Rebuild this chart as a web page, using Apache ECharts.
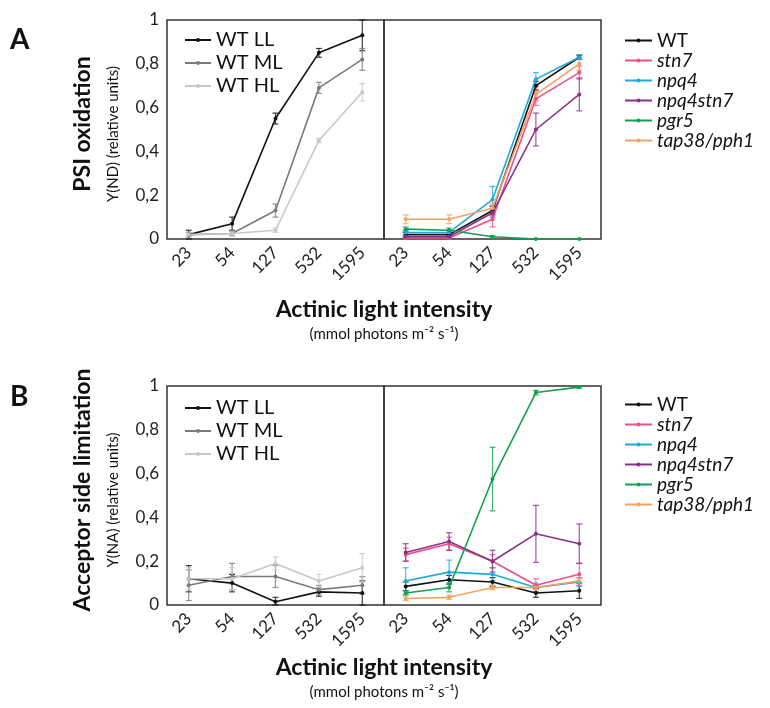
<!DOCTYPE html>
<html><head><meta charset="utf-8">
<script src="https://cdn.jsdelivr.net/npm/echarts@6/dist/echarts.min.js"></script>
<style>html,body{margin:0;padding:0;background:#fff}#c{width:770px;height:708px}</style>
</head><body><div id="c"></div>
<script>
const categories = ['23','54','127','532','1595'];
const yTicks = [0,0.2,0.4,0.6,0.8,1];

// Panel A (PSI oxidation, Y(ND)) – left: WT light acclimation
const aLL = [0.02,0.07,0.55,0.85,0.93];   const aLLerr = [0.02,0.03,0.025,0.02,0.07];
const aML = [0.02,0.025,0.13,0.69,0.82];  const aMLerr = [0.01,0.01,0.03,0.025,0.05];
const aHL = [0.02,0.025,0.04,0.45,0.67];  const aHLerr = [0.01,0.01,0.01,0.01,0.04];
// Panel A – right: mutants
const aWT = [0.02,0.02,0.13,0.70,0.83];        const aWTerr = [0.01,0.01,0.02,0.02,0.01];
const aStn7 = [0.005,0.005,0.09,0.64,0.76];    const aStn7err = [0.005,0.005,0.035,0.03,0.03];
const aNpq4 = [0.03,0.03,0.18,0.73,0.83];      const aNpq4err = [0.01,0.01,0.06,0.03,0.01];
const aNpq4stn7 = [0.01,0.01,0.12,0.50,0.66];  const aNpq4stn7err = [0.005,0.005,0.02,0.075,0.075];
const aPgr5 = [0.045,0.04,0.01,0.0,0.0];       const aPgr5err = [0.01,0.01,0.005,0,0];
const aTap38 = [0.09,0.09,0.14,0.66,0.80];     const aTap38err = [0.02,0.02,0.02,0.03,0.03];

// Panel B (Acceptor side limitation, Y(NA)) – left
const bLL = [0.12,0.10,0.015,0.06,0.055]; const bLLerr = [0.06,0.04,0.02,0.02,0.055];
const bML = [0.09,0.13,0.13,0.07,0.09];   const bMLerr = [0.07,0.06,0.05,0.02,0.04];
const bHL = [0.12,0.12,0.19,0.11,0.17];   const bHLerr = [0.05,0.05,0.03,0.03,0.065];
// Panel B – right
const bWT = [0.085,0.115,0.105,0.055,0.065];   const bWTerr = [0.02,0.02,0.02,0.02,0.035];
const bStn7 = [0.23,0.28,0.20,0.09,0.14];      const bStn7err = [0.03,0.03,0.03,0.03,0.05];
const bNpq4 = [0.11,0.15,0.14,0.08,0.105];     const bNpq4err = [0.06,0.055,0.03,0.02,0.02];
const bNpq4stn7 = [0.24,0.29,0.20,0.325,0.28]; const bNpq4stn7err = [0.04,0.04,0.05,0.13,0.09];
const bPgr5 = [0.055,0.08,0.575,0.97,0.995];   const bPgr5err = [0.01,0.02,0.145,0.01,0.005];
const bTap38 = [0.03,0.035,0.08,0.08,0.11];    const bTap38err = [0.01,0.01,0.01,0.01,0.01];

const wtNames = ['WT LL','WT ML','WT HL'];
const mutNames = ['WT','stn7','npq4','npq4stn7','pgr5','tap38/pph1'];

const FONT = 'Lato';
const wtColors = {'WT LL':'#111111','WT ML':'#7a7a7a','WT HL':'#c8c8c8'};
const mutColors = {'WT':'#111111','stn7':'#ec4f86','npq4':'#1ea9e1','npq4stn7':'#8b2f8c','pgr5':'#12a04e','tap38/pph1':'#f4a261'};

const chart = echarts.init(document.getElementById('c'), null, {renderer:'canvas'});

const grids = [
  {left:167, top:20, width:217, height:219},
  {left:384, top:20, width:217, height:219},
  {left:167, top:386, width:217, height:219},
  {left:384, top:386, width:217, height:219}
];

const xAxes = grids.map((g,i)=>({
  type:'category', gridIndex:i, data:categories, boundaryGap:true,
  axisLine:{show:false}, axisTick:{show:false},
  axisLabel:{rotate:45, fontSize:17, color:'#222', fontFamily:FONT, margin:11}
}));
const yAxes = grids.map((g,i)=>({
  type:'value', gridIndex:i, min:0, max:1, interval:0.2,
  axisLine:{show:false}, axisTick:{show:false}, splitLine:{show:false},
  axisLabel:{show: i%2===0, fontSize:17, color:'#222', fontFamily:FONT, margin:8,
    formatter: v => v===0 ? '0' : v===1 ? '1' : v.toFixed(1).replace('.',',')}
}));

function lineSeries(name, data, color, gi){
  return {type:'line', name, data, xAxisIndex:gi, yAxisIndex:gi,
    symbol:'circle', symbolSize:4, showSymbol:true,
    lineStyle:{color, width:1.6}, itemStyle:{color}, z:3, animation:false};
}
function errSeries(name, vals, errs, color, gi){
  const d = vals.map((v,i)=>[i, v, errs[i]]);
  return {type:'custom', name:'err_'+name+'_'+gi, xAxisIndex:gi, yAxisIndex:gi, data:d, z:2, animation:false,
    silent:true,
    renderItem:(params, api)=>{
      const x = api.value(0), v = api.value(1), e = api.value(2);
      if (e <= 0) return {type:'group', children:[]};
      const lo = api.coord([x, Math.max(0, v-e)]);
      const hi = api.coord([x, Math.min(1, v+e)]);
      const cw = 3;
      const st = {stroke:color, lineWidth:1.2, opacity:0.8};
      return {type:'group', children:[
        {type:'line', shape:{x1:lo[0], y1:lo[1], x2:hi[0], y2:hi[1]}, style:st},
        {type:'line', shape:{x1:lo[0]-cw, y1:lo[1], x2:lo[0]+cw, y2:lo[1]}, style:st},
        {type:'line', shape:{x1:hi[0]-cw, y1:hi[1], x2:hi[0]+cw, y2:hi[1]}, style:st}
      ]};
    }};
}

const panels = [
  {gi:0, names:wtNames, colors:wtColors, vals:[aLL,aML,aHL], errs:[aLLerr,aMLerr,aHLerr]},
  {gi:1, names:mutNames, colors:mutColors, vals:[aWT,aStn7,aNpq4,aNpq4stn7,aPgr5,aTap38], errs:[aWTerr,aStn7err,aNpq4err,aNpq4stn7err,aPgr5err,aTap38err]},
  {gi:2, names:wtNames, colors:wtColors, vals:[bLL,bML,bHL], errs:[bLLerr,bMLerr,bHLerr]},
  {gi:3, names:mutNames, colors:mutColors, vals:[bWT,bStn7,bNpq4,bNpq4stn7,bPgr5,bTap38], errs:[bWTerr,bStn7err,bNpq4err,bNpq4stn7err,bPgr5err,bTap38err]}
];
const series = [];
panels.forEach(p=>{
  p.names.forEach((n,k)=>{
    series.push(errSeries(n, p.vals[k], p.errs[k], p.colors[n], p.gi));
  });
  p.names.forEach((n,k)=>{
    series.push(lineSeries(n, p.vals[k], p.colors[n], p.gi));
  });
});

function wtLegend(top){
  return {data:wtNames, left:179, top, orient:'vertical', itemGap:3, itemWidth:26, itemHeight:5,
    selectedMode:false, textStyle:{fontSize:20, color:'#111', fontFamily:FONT, padding:[0,0,0,0]}};
}
function mutLegend(top){
  return {data:mutNames, left:619, top, orient:'vertical', itemGap:1, itemWidth:27, itemHeight:5,
    selectedMode:false,
    formatter: n => n==='WT' ? n : '{i|'+n+'}',
    textStyle:{fontSize:19, color:'#111', fontFamily:FONT, padding:[0,0,0,0],
      rich:{i:{fontStyle:'italic', fontSize:19, fontFamily:FONT, color:'#111'}}}};
}

function ytitle(x, cy, text, size, weight){
  return {type:'text', x, y:cy, rotation:Math.PI/2,
    style:{text, fontSize:size, fontWeight:weight, fontFamily:FONT, fill:'#111', align:'center', verticalAlign:'middle'}};
}
function ctext(x, y, text, size, weight){
  return {type:'text', x, y,
    style:{text, fontSize:size, fontWeight:weight, fontFamily:FONT, fill:'#111', align:'center', verticalAlign:'middle'}};
}

const graphic = [
  {type:'text', left:10, top:26, style:{text:'A', fontSize:28, fontWeight:'bold', fontFamily:FONT, fill:'#111'}},
  {type:'text', left:10, top:383, style:{text:'B', fontSize:28, fontWeight:'bold', fontFamily:FONT, fill:'#111'}},
  ytitle(83, 124, 'PSI oxidation', 23, 'bold'),
  ytitle(113, 134, 'Y(ND) (relative units)', 15, 'normal'),
  ytitle(83, 490, 'Acceptor side limitation', 23, 'bold'),
  ytitle(113, 500, 'Y(NA) (relative units)', 15, 'normal'),
  ctext(384, 310, 'Actinic light intensity', 23, 'bold'),
  ctext(384, 334, '(mmol photons m\u207B\u00B2 s\u207B\u00B9)', 15, 'normal'),
  ctext(384, 668, 'Actinic light intensity', 23, 'bold'),
  ctext(384, 692, '(mmol photons m\u207B\u00B2 s\u207B\u00B9)', 15, 'normal')
];

chart.setOption({
  animation:false,
  backgroundColor:'#fff',
  grid: grids.map(g=>Object.assign({show:true, borderColor:'#333', borderWidth:1.5, backgroundColor:'transparent'}, g)),
  xAxis: xAxes, yAxis: yAxes,
  legend:[wtLegend(25), mutLegend(26), wtLegend(393), mutLegend(390)],
  series, graphic
});
</script></body></html>
